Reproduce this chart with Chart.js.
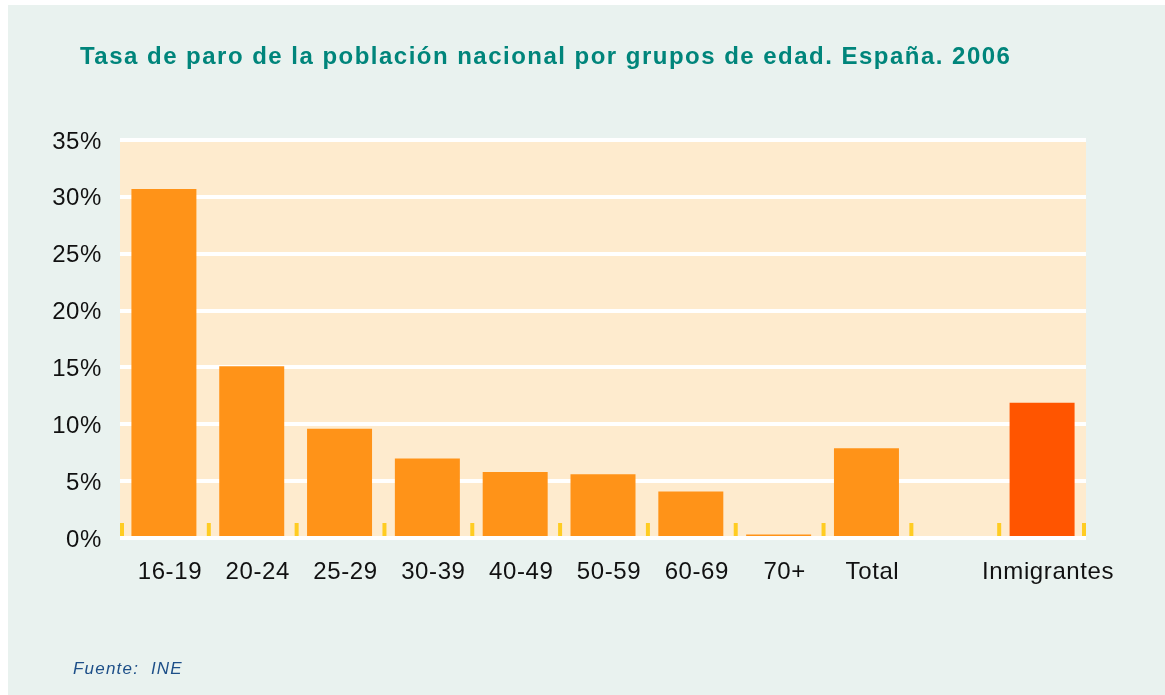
<!DOCTYPE html>
<html>
<head>
<meta charset="utf-8">
<script src="https://cdn.jsdelivr.net/npm/chart.js@4/dist/chart.umd.min.js"></script>
<style>
  html, body { margin: 0; padding: 0; background: #ffffff; }
  #panel { position: absolute; left: 8px; top: 5px; width: 1157px; height: 690px; background: #e9f2ef; }
  #title { position: absolute; left: 80px; top: 42px; font-family: "Liberation Sans", Arial, sans-serif;
    font-weight: bold; font-size: 24px; letter-spacing: 1.48px; color: #00857b; white-space: nowrap; }
  #source { position: absolute; left: 73px; top: 659px; font-family: "Liberation Sans", Arial, sans-serif;
    font-style: italic; font-size: 17px; letter-spacing: 1.2px; color: #1d4f88; white-space: pre; }
  #chart { position: absolute; left: 0; top: 0; }
</style>
</head>
<body>
<div id="panel"></div>
<canvas id="chart" width="1165" height="695"></canvas>
<div id="title">Tasa de paro de la población nacional por grupos de edad. España. 2006</div>
<div id="source">Fuente:  INE</div>
<script>
const categories = ['16-19', '20-24', '25-29', '30-39', '40-49', '50-59', '60-69', '70+', 'Total', '', 'Inmigrantes'];
const rates = [30.7, 15.1, 9.6, 7.0, 5.8, 5.6, 4.1, 0.3, 7.9, null, 11.9];
const yTicks = [0, 5, 10, 15, 20, 25, 30, 35];

const barColors = categories.map((c) => (c == 'Inmigrantes' ? '#ff5500' : '#ff9318'));

// peach plot area behind the grid
const plotBg = {
  id: 'plotBg',
  beforeDraw(chart) {
    const a = chart.chartArea;
    const ctx = chart.ctx;
    ctx.letterSpacing = '0.6px';
    ctx.save();
    ctx.fillStyle = '#feebce';
    ctx.fillRect(a.left, a.top, a.right - a.left, a.bottom - a.top);
    ctx.restore();
  },
};

// little yellow marks on the category boundaries
const catMarks = {
  id: 'catMarks',
  beforeDatasetsDraw(chart) {
    const a = chart.chartArea;
    const ctx = chart.ctx;
    const n = categories.length;
    const step = (a.right - a.left) / n;
    ctx.save();
    ctx.fillStyle = '#ffcc22';
    for (let i = 0; i <= n; i++) {
      let x = a.left + i * step - 1;
      x = Math.min(Math.max(x, a.left), a.right - 4);
      ctx.fillRect(x, a.bottom - 15, 4, 13);
    }
    ctx.restore();
  },
};

new Chart(document.getElementById('chart'), {
  type: 'bar',
  data: {
    labels: categories,
    datasets: [
      {
        data: rates,
        backgroundColor: barColors,
        borderWidth: 0,
        categoryPercentage: 1,
        barPercentage: 0.74,
      },
    ],
  },
  options: {
    responsive: false,
    animation: false,
    layout: { padding: { top: 140, right: 79, bottom: 0, left: 0 } },
    plugins: {
      legend: { display: false },
      tooltip: { enabled: false },
    },
    scales: {
      x: {
        grid: { display: false, drawTicks: false },
        border: { display: false },
        ticks: {
          padding: 20,
          labelOffset: 6,
          maxRotation: 0,
          minRotation: 0,
          autoSkip: false,
          color: '#111111',
          font: { family: 'Liberation Sans', size: 24 },
        },
        afterFit: (scale) => {
          scale.height = 157;
        },
      },
      y: {
        min: 0,
        max: 35,
        grid: { color: '#ffffff', lineWidth: 4, drawTicks: false },
        border: { display: false },
        afterBuildTicks: (scale) => {
          scale.ticks = yTicks.map((v) => ({ value: v }));
        },
        ticks: {
          padding: 18,
          labelOffset: 2,
          color: '#111111',
          font: { family: 'Liberation Sans', size: 24 },
          callback: (v) => v + '%',
        },
        afterFit: (scale) => {
          scale.width = 120;
        },
      },
    },
  },
  plugins: [plotBg, catMarks],
});
</script>
</body>
</html>
